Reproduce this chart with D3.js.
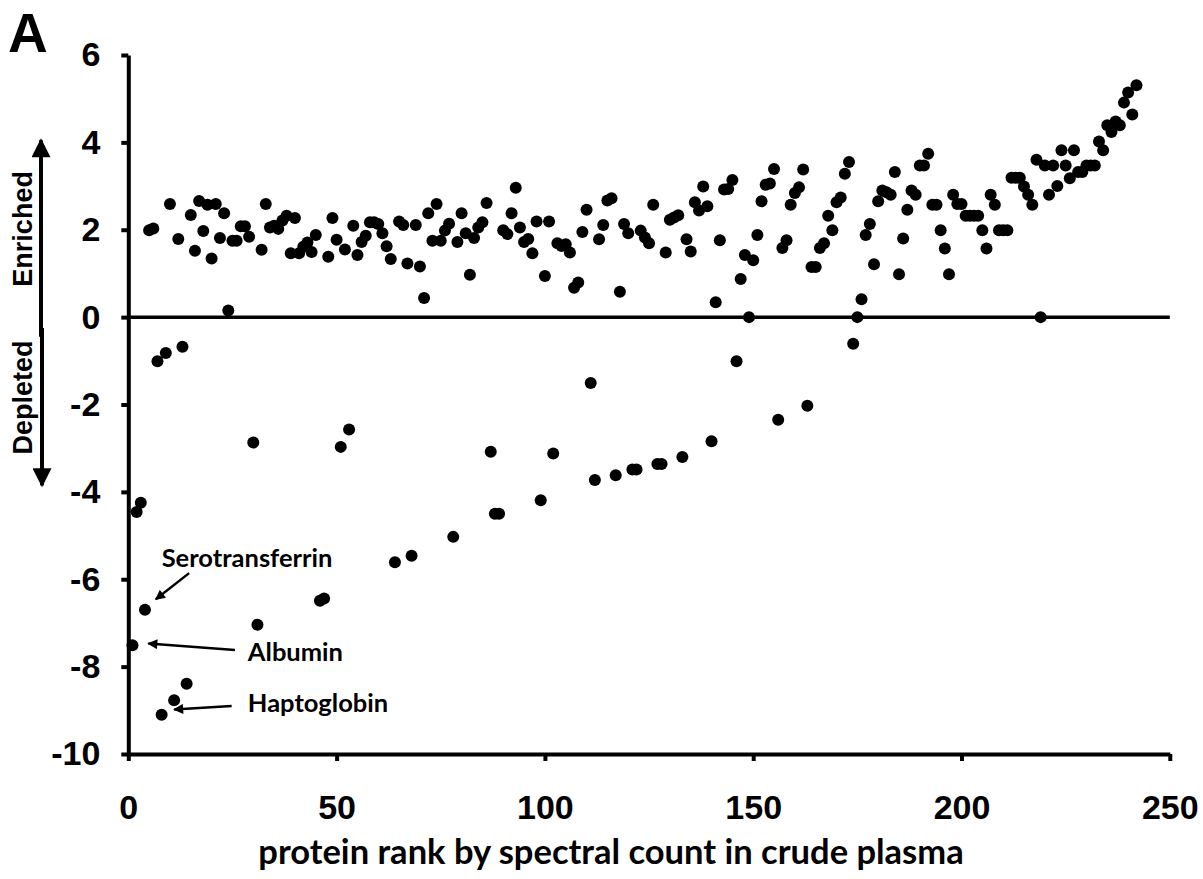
<!DOCTYPE html>
<html>
<head>
<meta charset="utf-8">
<script src="https://cdn.jsdelivr.net/npm/d3@7"></script>
<style>
  body { margin: 0; background: #fff; }
  svg { display: block; }
</style>
</head>
<body>
<script>
// log2 ratio per protein, in order of rank (rank = position + 1)
var ratios = [
  -7.51, -4.46, -4.25, -6.70, 1.99, 2.03, -1.01, -9.10, -0.82, 2.59,
  -8.77, 1.79, -0.68, -8.39, 2.34, 1.52, 2.66, 1.97, 2.57, 1.34,
  2.59, 1.81, 2.38, 0.15, 1.75, 1.75, 2.08, 2.08, 1.84, -2.87,
  -7.04, 1.54, 2.59, 2.05, 2.09, 2.02, 2.21, 2.32, 1.46, 2.27,
  1.46, 1.61, 1.71, 1.49, 1.88, -6.49, -6.44, 1.38, 2.27, 1.77,
  -2.97, 1.55, -2.57, 2.09, 1.42, 1.72, 1.86, 2.17, 2.17, 2.13,
  1.92, 1.62, 1.33, -5.61, 2.19, 2.11, 1.23, -5.46, 2.11, 1.16,
  0.44, 2.38, 1.75, 2.59, 1.75, 1.98, 2.14, -5.03, 1.72, 2.38,
  1.92, 0.97, 1.81, 2.05, 2.17, 2.61, -3.08, -4.50, -4.50, 1.99,
  1.90, 2.38, 2.96, 2.05, 1.72, 1.79, 1.46, 2.19, -4.19, 0.94,
  2.19, -3.12, 1.69, 1.63, 1.67, 1.48, 0.67, 0.79, 1.95, 2.46,
  -1.51, -3.73, 1.78, 2.11, 2.67, 2.72, -3.62, 0.58, 2.13, 1.92,
  -3.49, -3.49, 1.98, 1.82, 1.69, 2.57, -3.36, -3.36, 1.48, 2.23,
  2.28, 2.33, -3.20, 1.78, 1.50, 2.63, 2.44, 2.99, 2.54, -2.84,
  0.34, 1.76, 2.92, 2.93, 3.14, -1.01, 0.87, 1.42, 0.00, 1.30,
  1.88, 2.65, 3.03, 3.06, 3.39, -2.35, 1.58, 1.76, 2.57, 2.84,
  2.97, 3.38, -2.03, 1.15, 1.15, 1.58, 1.69, 2.32, 1.99, 2.63,
  2.74, 3.28, 3.55, -0.61, 0.00, 0.41, 1.88, 2.13, 1.21, 2.65,
  2.90, 2.86, 2.80, 3.32, 0.98, 1.80, 2.46, 2.90, 2.80, 3.47,
  3.47, 3.74, 2.57, 2.57, 1.99, 1.57, 0.98, 2.80, 2.59, 2.59,
  2.32, 2.32, 2.32, 2.32, 1.99, 1.57, 2.80, 2.57, 1.99, 1.99,
  1.99, 3.19, 3.19, 3.19, 2.99, 2.80, 2.57, 3.60, 0.00, 3.47,
  2.80, 3.47, 3.00, 3.82, 3.47, 3.18, 3.82, 3.32, 3.32, 3.47,
  3.47, 3.47, 4.02, 3.82, 4.39, 4.24, 4.48, 4.39, 4.91, 5.14,
  4.64, 5.31
];

var xTicks = [0, 50, 100, 150, 200, 250];
var yTicks = [-10, -8, -6, -4, -2, 0, 2, 4, 6];

// labelled proteins: label anchor, arrow start and arrow end (data units)
var annoNames = ["Serotransferrin", "Albumin", "Haptoglobin"];
var annoLabel = [[8.0, -5.71], [28.7, -7.86], [28.7, -9.03]];
var annoFrom = [[14.6, -5.86], [25.6, -7.62], [24.8, -8.90]];
var annoTo = [[6.6, -6.46], [4.8, -7.47], [11.0, -8.98]];

var width = 1203,
    height = 879;

var x = d3.scaleLinear()
    .domain([0, 250])
    .range([128.3, 1169.8]);

var y = d3.scaleLinear()
    .domain([-10, 6])
    .range([754, 55]);

var svg = d3.select("body").append("svg")
    .attr("width", width)
    .attr("height", height);

var defs = svg.append("defs");
defs.append("marker")
    .attr("id", "head")
    .attr("viewBox", "0 0 10 10")
    .attr("refX", 9)
    .attr("refY", 5)
    .attr("markerWidth", 11)
    .attr("markerHeight", 10)
    .attr("markerUnits", "userSpaceOnUse")
    .attr("orient", "auto")
    .append("path")
    .attr("d", "M0,0L10,5L0,10Z")
    .attr("fill", "#000");

defs.append("marker")
    .attr("id", "bighead")
    .attr("viewBox", "0 0 10 10")
    .attr("refX", 9)
    .attr("refY", 5)
    .attr("markerWidth", 22)
    .attr("markerHeight", 19)
    .attr("markerUnits", "userSpaceOnUse")
    .attr("orient", "auto")
    .append("path")
    .attr("d", "M0,0L10,5L0,10Z")
    .attr("fill", "#000");

// gewone streepjes als minteken, zoals in het origineel
var plain = function (d) { return String(d); };

// y as
svg.append("g")
    .attr("transform", "translate(" + x(0) + ",0)")
    .call(d3.axisLeft(y).tickValues(yTicks).tickFormat(plain).tickSize(7).tickSizeOuter(0).tickPadding(21));

// x as (onderkant, bij -10)
svg.append("g")
    .attr("transform", "translate(0," + y(-10) + ")")
    .call(d3.axisBottom(x).tickValues(xTicks).tickFormat(plain).tickSize(7).tickSizeOuter(0).tickPadding(34));

svg.selectAll(".domain").attr("stroke", "#000").attr("stroke-width", 4);
svg.selectAll(".tick line").attr("stroke", "#000").attr("stroke-width", 4);
svg.selectAll(".tick text")
    .attr("fill", "#000")
    .attr("font-family", "'Liberation Sans', Arial, sans-serif")
    .attr("font-weight", "bold")
    .attr("font-size", 34);

// nullijn
svg.append("line")
    .attr("x1", x(0))
    .attr("x2", x(250))
    .attr("y1", y(0))
    .attr("y2", y(0))
    .attr("stroke", "#000")
    .attr("stroke-width", 3.5);

// punten
svg.append("g")
    .selectAll("circle")
    .data(ratios)
    .enter().append("circle")
    .attr("cx", function (d, i) { return x(i + 1); })
    .attr("cy", function (d) { return y(d); })
    .attr("r", 6)
    .attr("fill", "#000");

// annotaties met pijlen
var anno = svg.append("g")
    .attr("font-family", "Lato, 'Open Sans', sans-serif")
    .attr("font-weight", "bold")
    .attr("font-size", 25.5);

anno.selectAll("text")
    .data(annoNames)
    .enter().append("text")
    .attr("x", function (d, i) { return x(annoLabel[i][0]); })
    .attr("y", function (d, i) { return y(annoLabel[i][1]); })
    .attr("fill", "#000")
    .text(function (d) { return d; });

anno.selectAll("line")
    .data(annoNames)
    .enter().append("line")
    .attr("x1", function (d, i) { return x(annoFrom[i][0]); })
    .attr("y1", function (d, i) { return y(annoFrom[i][1]); })
    .attr("x2", function (d, i) { return x(annoTo[i][0]); })
    .attr("y2", function (d, i) { return y(annoTo[i][1]); })
    .attr("stroke", "#000")
    .attr("stroke-width", 2.5)
    .attr("marker-end", "url(#head)");

// as titel
svg.append("text")
    .attr("x", 611)
    .attr("y", 864)
    .attr("text-anchor", "middle")
    .attr("font-family", "Lato, 'Open Sans', sans-serif")
    .attr("font-weight", "bold")
    .attr("font-size", 34.5)
    .attr("fill", "#000")
    .text("protein rank by spectral count in crude plasma");

// paneel letter
svg.append("text")
    .attr("x", 8)
    .attr("y", 52)
    .attr("font-family", "'Liberation Sans', Arial, sans-serif")
    .attr("font-weight", "bold")
    .attr("font-size", 55)
    .attr("fill", "#000")
    .text("A");

// verrijkt / verarmd pijlen langs de y as
svg.append("line")
    .attr("x1", 41).attr("x2", 41)
    .attr("y1", y(-0.45)).attr("y2", y(4.05))
    .attr("stroke", "#000")
    .attr("stroke-width", 4)
    .attr("marker-end", "url(#bighead)");

svg.append("line")
    .attr("x1", 42).attr("x2", 42)
    .attr("y1", y(-0.25)).attr("y2", y(-3.85))
    .attr("stroke", "#000")
    .attr("stroke-width", 4)
    .attr("marker-end", "url(#bighead)");

var side = svg.append("g")
    .attr("font-family", "'Liberation Sans', Arial, sans-serif")
    .attr("font-weight", "bold")
    .attr("font-size", 27)
    .attr("fill", "#000")
    .attr("text-anchor", "middle");

side.append("text")
    .attr("transform", "translate(32," + y(2.02) + ") rotate(-90)")
    .text("Enriched");

side.append("text")
    .attr("transform", "translate(32," + y(-1.84) + ") rotate(-90)")
    .text("Depleted");
</script>
</body>
</html>
